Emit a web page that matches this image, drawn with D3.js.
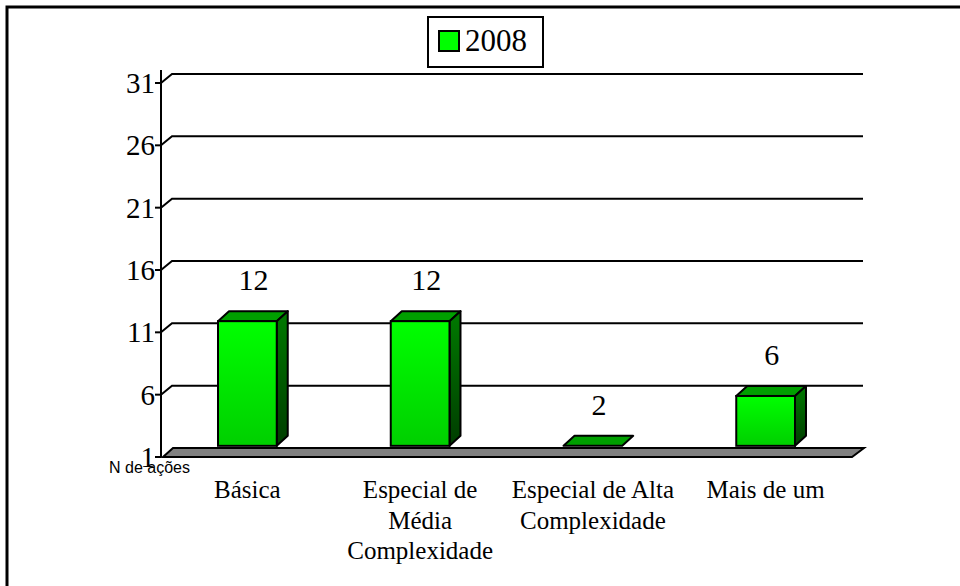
<!DOCTYPE html>
<html>
<head>
<meta charset="utf-8">
<script src="https://cdn.jsdelivr.net/npm/d3@7"></script>
<style>
    body { margin: 0; background: #fff; }
    svg { display: block; }
</style>
</head>
<body>
<svg width="960" height="586"></svg>
<script>
// data
var categories = [
    ["Básica"],
    ["Especial de", "Média", "Complexidade"],
    ["Especial de Alta", "Complexidade"],
    ["Mais de um"],
];
var values2008 = [12, 12, 2, 6];
var yTicks = [1, 6, 11, 16, 21, 26, 31];
var seriesName = "2008";
var axisTitle = "N de ações";

window.onload = main;

function main() {
    var svg = d3.select("svg");
    var serif = "'Liberation Serif', 'Times New Roman', serif";

    var x0 = 161,
        x1 = 852;
    var dx = 11,
        dy = -9; // depth of the back wall

    var x = d3
        .scaleBand()
        .domain(d3.range(categories.length))
        .range([x0, x1])
        .paddingInner(0.66)
        .paddingOuter(0.33);

    var y = d3.scaleLinear().domain([1, 31]).range([457, 83]);

    // gradients
    var defs = svg.append("defs");
    function grad(id, c0, c1) {
        var g = defs
            .append("linearGradient")
            .attr("id", id)
            .attr("x1", 0)
            .attr("y1", 0)
            .attr("x2", 0)
            .attr("y2", 1);
        g.append("stop").attr("offset", 0).attr("stop-color", c0);
        g.append("stop").attr("offset", 1).attr("stop-color", c1);
    }
    grad("front", "#00ff00", "#00cf00");
    grad("side", "#007a00", "#003d00");

    // outer frame
    svg.append("rect")
        .attr("x", 7)
        .attr("y", 7)
        .attr("width", 980)
        .attr("height", 600)
        .attr("fill", "none")
        .attr("stroke", "#000")
        .attr("stroke-width", 3);

    // back wall grid lines
    svg.selectAll(".grid")
        .data(yTicks.slice(1))
        .enter()
        .append("path")
        .attr("class", "grid")
        .attr("d", (d) =>
            d3.line()([
                [x0, y(d)],
                [x0 + dx, y(d) + dy],
                [x1 + dx, y(d) + dy],
            ])
        )
        .attr("fill", "none")
        .attr("stroke", "#000")
        .attr("stroke-width", 2);

    // axis line + ticks
    svg.append("line")
        .attr("x1", x0)
        .attr("x2", x0)
        .attr("y1", y(31) - 13)
        .attr("y2", y(1))
        .attr("stroke", "#000")
        .attr("stroke-width", 2);

    svg.selectAll(".tick")
        .data(yTicks)
        .enter()
        .append("line")
        .attr("x1", x0 - 6)
        .attr("x2", x0)
        .attr("y1", (d) => y(d))
        .attr("y2", (d) => y(d))
        .attr("stroke", "#000")
        .attr("stroke-width", 2);

    svg.selectAll(".ticklabel")
        .data(yTicks)
        .enter()
        .append("text")
        .attr("x", x0 - 6)
        .attr("y", (d) => y(d) + 10)
        .attr("text-anchor", "end")
        .style("font-family", serif)
        .style("font-size", "29px")
        .text((d) => d);

    // floor
    svg.append("path")
        .attr(
            "d",
            d3.line()([
                [x0 + 2, y(1)],
                [x1, y(1)],
                [x1 + dx + 1, y(1) + dy],
                [x0 + dx + 1, y(1) + dy],
            ]) + "Z"
        )
        .attr("fill", "#808080")
        .attr("stroke", "#000")
        .attr("stroke-width", 2);

    // bars (front face starts at 2, like the original)
    var bdx = 11,
        bdy = -10,
        off = 1.3,
        base = 2;

    function yb(v) {
        return y(v) + off;
    }

    var bars = svg
        .selectAll(".bar")
        .data(values2008)
        .enter()
        .append("g")
        .attr("class", "bar");

    // top face
    bars.append("path")
        .attr("d", (d, i) => {
            var l = x(i),
                r = x(i) + x.bandwidth(),
                t = yb(d);
            return (
                d3.line()([
                    [l, t],
                    [r, t],
                    [r + bdx, t + bdy],
                    [l + bdx, t + bdy],
                ]) + "Z"
            );
        })
        .attr("fill", "#00a000")
        .attr("stroke", "#000")
        .attr("stroke-width", 2)
        .attr("stroke-linejoin", "round");

    // side + front
    bars.each(function (d, i) {
        if (d <= base) return;
        var g = d3.select(this),
            l = x(i),
            r = x(i) + x.bandwidth(),
            t = yb(d),
            b = yb(base);
        g.append("path")
            .attr(
                "d",
                d3.line()([
                    [r, t],
                    [r + bdx, t + bdy],
                    [r + bdx, b + bdy],
                    [r, b],
                ]) + "Z"
            )
            .attr("fill", "url(#side)")
            .attr("stroke", "#000")
            .attr("stroke-width", 2)
            .attr("stroke-linejoin", "round");
        g.append("rect")
            .attr("x", l)
            .attr("y", t)
            .attr("width", r - l)
            .attr("height", b - t)
            .attr("fill", "url(#front)")
            .attr("stroke", "#000")
            .attr("stroke-width", 2);
    });

    // value labels
    svg.selectAll(".val")
        .data(values2008)
        .enter()
        .append("text")
        .attr("x", (d, i) => x(i) + x.bandwidth() / 2 + 6)
        .attr("y", (d) => yb(d) + bdy - 21)
        .attr("text-anchor", "middle")
        .style("font-family", serif)
        .style("font-size", "30px")
        .text((d) => d);

    // category labels
    var cat = svg
        .selectAll(".cat")
        .data(categories)
        .enter()
        .append("text")
        .attr("text-anchor", "middle")
        .style("font-family", serif)
        .style("font-size", "25px");
    cat.selectAll("tspan")
        .data((d, i) => d.map((s) => ({ s: s, i: i })))
        .enter()
        .append("tspan")
        .attr("x", (d) => x(d.i) + x.bandwidth() / 2)
        .attr("y", (d, j) => 498 + j * 30.5)
        .text((d) => d.s);

    svg.append("text")
        .attr("x", 190)
        .attr("y", 473)
        .attr("text-anchor", "end")
        .style("font-family", "'Liberation Sans', Arial, sans-serif")
        .style("font-size", "16px")
        .text(axisTitle);

    // legend
    var lg = svg.append("g").attr("transform", "translate(428,17)");
    lg.append("rect")
        .attr("width", 115)
        .attr("height", 50)
        .attr("fill", "#fff")
        .attr("stroke", "#000")
        .attr("stroke-width", 2);
    lg.append("rect")
        .attr("x", 11)
        .attr("y", 14)
        .attr("width", 20)
        .attr("height", 20)
        .attr("fill", "#00ff00")
        .attr("stroke", "#000")
        .attr("stroke-width", 2);
    lg.append("text")
        .attr("x", 37)
        .attr("y", 34)
        .style("font-family", serif)
        .style("font-size", "31px")
        .text(seriesName);
}
</script>
</body>
</html>
